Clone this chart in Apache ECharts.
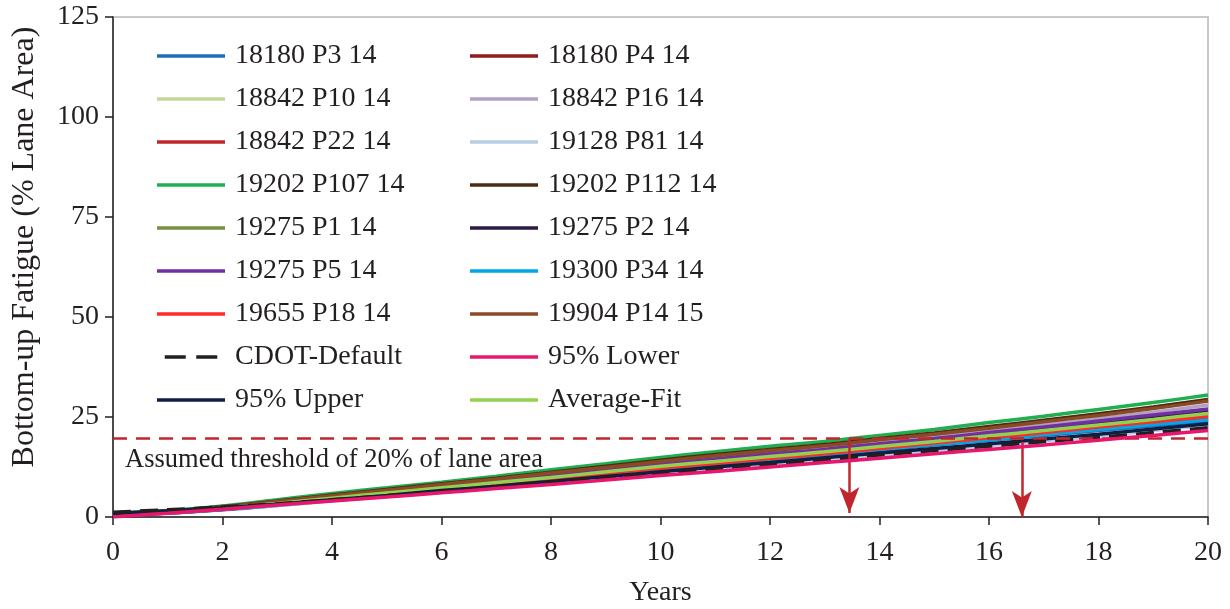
<!DOCTYPE html>
<html>
<head>
<meta charset="utf-8">
<script src="https://cdn.jsdelivr.net/npm/echarts@6/dist/echarts.min.js"></script>
<style>
html,body{margin:0;padding:0;background:#fff;}
#chart{width:1230px;height:609px;}
</style>
</head>
<body>
<div id="chart"></div>
<script>
const years = [0,1,2,3,4,5,6,7,8,9,10,11,12,13,14,15,16,17,18,19,20];

const s18180P3  = [0.5,1.0,1.8,2.9,4.1,5.4,6.6,7.9,9.2,10.5,11.8,13.0,14.2,15.4,16.7,18.0,19.2,20.4,21.6,22.8,24.0];
const s18180P4  = [0.5,1.0,1.9,3.1,4.3,5.6,6.9,8.1,9.4,10.7,12.0,13.2,14.4,15.6,16.9,18.2,19.5,20.8,22.1,23.4,24.7];
const s18842P10 = [0.6,1.1,2.1,3.3,4.5,5.8,7.1,8.4,9.7,11.0,12.4,13.6,14.8,15.9,17.2,18.5,19.8,21.2,22.6,23.9,25.3];
const s18842P16 = [0.8,1.4,2.4,3.7,5.1,6.5,7.8,9.2,10.6,12.0,13.5,14.8,16.1,17.3,18.7,20.1,21.6,23.1,24.6,26.2,28.0];
const s18842P22 = [0.5,1.1,2.0,3.1,4.3,5.6,6.9,8.2,9.5,10.8,12.1,13.3,14.5,15.7,17.0,18.3,19.6,20.9,22.3,23.6,24.9];
const s19128P81 = [0.8,1.3,2.0,2.9,4.0,5.1,6.2,7.3,8.5,9.7,10.9,12.0,13.1,14.2,15.4,16.6,17.8,19.0,20.2,21.6,23.0];
const s19202P107= [1.0,1.6,2.75,4.3,5.9,7.3,8.7,10.2,11.8,13.3,14.9,16.3,17.7,18.9,20.4,21.9,23.6,25.2,26.9,28.6,30.5];
const s19202P112= [0.9,1.5,2.6,4.0,5.5,6.9,8.3,9.7,11.2,12.7,14.2,15.6,16.9,18.1,19.6,21.0,22.6,24.2,25.8,27.5,29.4];
const s19275P1  = [0.6,1.2,2.1,3.3,4.6,5.9,7.2,8.5,9.8,11.1,12.5,13.7,14.9,16.0,17.3,18.6,20.0,21.3,22.7,24.1,25.5];
const s19275P2  = [0.7,1.3,2.3,3.5,4.9,6.2,7.5,8.9,10.2,11.6,13.0,14.3,15.5,16.7,18.0,19.4,20.8,22.2,23.7,25.1,26.6];
const s19275P5  = [0.7,1.3,2.3,3.6,5.0,6.3,7.6,9.0,10.4,11.8,13.2,14.5,15.8,16.9,18.3,19.6,21.1,22.5,24.0,25.5,27.0];
const s19300P34 = [0.5,1.0,1.9,3.0,4.2,5.4,6.7,8.0,9.3,10.6,11.9,13.1,14.3,15.5,16.8,18.1,19.3,20.6,21.9,23.1,24.3];
const s19655P18 = [0.6,1.1,2.0,3.2,4.4,5.7,7.0,8.3,9.6,10.9,12.2,13.4,14.6,15.8,17.1,18.5,19.8,21.1,22.5,23.8,25.1];
const s19904P14 = [0.8,1.4,2.5,3.9,5.3,6.7,8.1,9.5,11.0,12.4,13.9,15.3,16.6,17.8,19.3,20.7,22.2,23.8,25.4,27.1,29.0];
const cdotDefault = [1.2,1.8,2.5,3.3,4.3,5.3,6.4,7.5,8.7,9.9,11.0,12.1,13.2,14.3,15.5,16.6,17.7,18.8,19.9,21.1,22.3];
const lower95   = [0,0.95,1.95,3.0,4.0,5.0,6.05,7.1,8.15,9.25,10.35,11.4,12.5,13.6,14.7,15.8,16.9,18.0,19.2,20.4,21.6];
const upper95   = [0.9,1.5,2.3,3.2,4.3,5.4,6.6,7.7,8.9,10.1,11.3,12.5,13.6,14.8,16.0,17.1,18.3,19.5,20.7,22.0,23.3];
const averageFit= [0.6,1.2,2.2,3.4,4.7,6.0,7.3,8.6,9.9,11.3,12.7,13.9,15.1,16.3,17.6,18.9,20.3,21.6,23.0,24.4,25.9];

const thresholdValue = 19.6;
const arrowX = [13.45, 16.6];
const arrowTop = [19.6, 18.8];
const arrowBottom = [1.0, 0.0];

const xTicks = ['0','2','4','6','8','10','12','14','16','18','20'];

const FONT = '"Liberation Serif","Times New Roman",serif';
const TXT = '#231F20';

const seriesDefs = [
  ['18180 P3 14', s18180P3, '#1F6DB5'],
  ['18180 P4 14', s18180P4, '#8E1B1B'],
  ['18842 P10 14', s18842P10, '#C4D79B'],
  ['18842 P16 14', s18842P16, '#B2A1C7'],
  ['18842 P22 14', s18842P22, '#C0272D'],
  ['19128 P81 14', s19128P81, '#B8CCE4'],
  ['19202 P107 14', s19202P107, '#1DAF50'],
  ['19202 P112 14', s19202P112, '#4E2A12'],
  ['19275 P1 14', s19275P1, '#76923C'],
  ['19275 P2 14', s19275P2, '#2E1A47'],
  ['19275 P5 14', s19275P5, '#7030A0'],
  ['19300 P34 14', s19300P34, '#00A6E6'],
  ['19655 P18 14', s19655P18, '#FF2A2A'],
  ['19904 P14 15', s19904P14, '#8B4A26'],
  ['CDOT-Default', cdotDefault, '#231F20'],
  ['95% Lower', lower95, '#E8176E'],
  ['95% Upper', upper95, '#0F1E45'],
  ['Average-Fit', averageFit, '#92D050']
];

const zOrder = {'CDOT-Default': 4, '95% Lower': 5, '95% Upper': 3};

const series = seriesDefs.map(([name, vals, color]) => ({
  name: name,
  type: 'line',
  data: years.map((y, i) => [y, vals[i]]),
  symbol: 'none',
  showSymbol: false,
  smooth: 0.3,
  z: zOrder[name] || 2,
  lineStyle: {
    color: color,
    width: 3.5,
    type: name === 'CDOT-Default' ? [18, 9] : 'solid'
  },
  itemStyle: {color: color}
}));

series.push({
  name: 'annotations',
  type: 'line',
  data: [],
  z: 6,
  markLine: {
    silent: true,
    animation: false,
    symbol: ['none', 'none'],
    data: [
      {
        yAxis: thresholdValue,
        lineStyle: {color: '#C0272D', width: 2.5, type: [14, 9]},
        label: {
          show: true,
          position: 'insideStartBottom',
          formatter: 'Assumed threshold of 20% of lane area',
          color: TXT,
          fontFamily: FONT,
          fontSize: 26.5,
          distance: [12, 8]
        }
      }
    ]
  }
});

series.push({
  name: 'arrows',
  type: 'line',
  data: [],
  z: 7,
  markLine: {
    silent: true,
    animation: false,
    symbol: ['none', 'arrow'],
    symbolSize: [15, 26],
    label: {show: false},
    lineStyle: {color: '#C0272D', width: 2.5, type: 'solid'},
    data: arrowX.map((x, i) => [
      {coord: [x, arrowTop[i]]},
      {coord: [x, arrowBottom[i]]}
    ])
  }
});

const dashIcon = 'path://M0,0H24V4H0Z M36,0H60V4H36Z';
const legendData = seriesDefs.map(d => d[0] === 'CDOT-Default' ? {name: d[0], icon: dashIcon} : {name: d[0]});

const chart = echarts.init(document.getElementById('chart'), null, {renderer: 'canvas'});
chart.setOption({
  animation: false,
  backgroundColor: '#fff',
  textStyle: {fontFamily: FONT, color: TXT},
  grid: {
    left: 113, right: 22, top: 17, bottom: 92,
    outerBoundsMode: 'none',
    containLabel: false,
    show: true, borderColor: '#C9C9C9', borderWidth: 2, backgroundColor: 'transparent'
  },
  legend: {
    data: legendData,
    left: 157, top: 41, width: 640,
    padding: 0,
    orient: 'horizontal',
    icon: 'rect',
    itemWidth: 68, itemHeight: 3.5, itemGap: 13,
    textStyle: {
      fontFamily: FONT, fontSize: 28, color: TXT,
      width: 222, lineHeight: 30, padding: [0, 0, 0, 5]
    },
    selectedMode: false
  },
  xAxis: {
    type: 'value', min: 0, max: 20, interval: 2,
    name: 'Years', nameLocation: 'middle', nameGap: 62,
    nameTextStyle: {fontFamily: FONT, fontSize: 28, color: TXT},
    axisLine: {show: true, lineStyle: {color: TXT, width: 1.5}},
    axisTick: {show: true, length: 8, lineStyle: {color: TXT, width: 1.5}},
    axisLabel: {
      fontFamily: FONT, fontSize: 28, color: TXT, margin: 22,
      formatter: (v) => xTicks[Math.round(v / 2)]
    },
    splitLine: {show: false}
  },
  yAxis: {
    type: 'value', min: 0, max: 125, interval: 25,
    name: 'Bottom-up Fatigue (% Lane Area)', nameLocation: 'middle', nameGap: 72,
    nameTextStyle: {fontFamily: FONT, fontSize: 32, color: TXT, padding: [0, 0, 0, 40]},
    axisLine: {show: true, lineStyle: {color: TXT, width: 1.5}},
    axisTick: {show: true, length: 8, lineStyle: {color: TXT, width: 1.5}},
    axisLabel: {fontFamily: FONT, fontSize: 28, color: TXT, margin: 14},
    splitLine: {show: false}
  },
  series: series
});
</script>
</body>
</html>
